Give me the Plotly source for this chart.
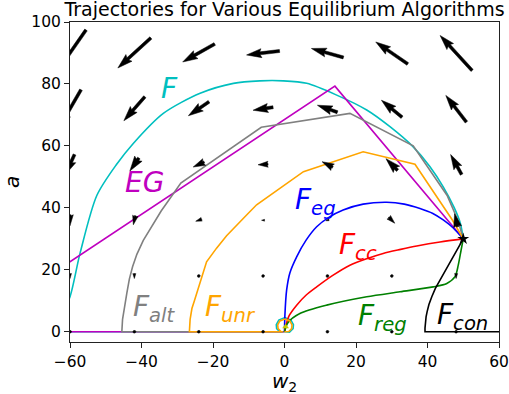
import math
import plotly.graph_objects as go

# ---------------------------------------------------------------- data
# Quiver grid (w2 columns, a rows)
W2_GRID = [-60, -42, -24, -6, 12, 30, 48]
A_GRID = [0, 18, 36, 54, 72, 90]

# Vector field components at each grid node (rows follow A_GRID)
U = [
    [0, 0, 0, 0, 0, 0, 0],
    [0, 0, 0, 0, 0, 0, 0],
    [0, -2, -6, -3, -3, 6, -3],
    [-9, -9, -11, -10, -10.6, -11.6, -11],
    [-22, -21, -20.6, -20, -20, -20.6, -20.6],
    [-32, -33, -32, -33, -32, -32, -32],
]
V = [
    [0, 0, 0, 0, 0, 0, 0],
    [-5, -5, -1, -0.5, -0.5, -2.5, -5],
    [-11, -9, -2, 0, -1, -6, 13],
    [-20, -13, -5, -0.5, 5.6, 11.7, 20],
    [-38, -24, -14, -3, 7, 17, 26.7],
    [-46, -30, -18, -4, 9, 22, 35],
]
QUIVER_SCALE = 1.0  # arrow length in px per field unit

# Trajectories (w2, a)
F_W2 = [0, 1.4, 2.4, 2.5, 1.8, 0.1, -1.6, -2.3, -2.2, -1.2, -0.5, -64, -62.5, -60, -57.2,
        -52.5, -47, -42.3, -33.9, -23.6, -14.3, -6.9, -0.3, 6.2, 14.6, 23, 29.5, 36,
        40.7, 44.4, 47.5, 49.2, 50]
F_A = [0, -0.1, 1.0, 2.3, 3.8, 4.6, 3.8, 2.3, 1.0, -0.1, 0, 0, 5, 11.3, 25.3,
       44, 54, 60.8, 70.5, 77, 80.2, 81, 81, 80.2, 76.4, 71.6, 66.2, 59.7,
       53.3, 46.8, 40, 35, 30]
F_TURN = 11  # index where F leaves the a = 0 boundary

EG_W2 = [0, -89.5, 14.1, 50]
EG_A = [0, 0, 79.3, 30]

ALT_W2 = [0, -45.5, -45.3, -44.8, -44.1, -43.4, -42.5, -41.3, -39.5, -34.5, -29, -6.5, 18.3, 36, 45.5, 48.5, 50]
ALT_A = [0, 0, 4, 8, 12.5, 17, 21, 25, 29.5, 39, 48, 66, 70.5, 60, 44, 36, 30]

UNR_W2 = [0, 1.2, 2.0, 2.1, 1.5, 0.1, -1.3, -1.9, -1.8, -1.0, -0.5, -26.6, -26.4, -25.9, -25.2,
          -24.4, -23.5, -21.8, -19, -16.2, -10.6, -7.8, -1.3, 5.3, 22, 36.5, 47, 50]
UNR_A = [0, 0.1, 1.0, 2.2, 3.5, 4.1, 3.5, 2.2, 1.0, 0.1, 0, 0, 4, 7.5, 10,
         13, 16, 22.6, 27, 31, 37.7, 41, 46.3, 51.7, 58.1, 54.1, 36, 30]

EGF_W2 = [0, 0.1, 0.6, 1.5, 3.4, 6, 9, 12.5, 16.4, 22, 28.6, 33.5, 37.9, 41.5, 44.4, 47.2, 50]
EGF_A = [0, 5, 13.5, 19, 24.2, 29.5, 33.9, 37, 39.3, 41.2, 41.8, 41.2, 39.8, 38.2, 36.1, 33.5, 30]

CC_W2 = [0, 1.2, 3.4, 6, 9, 13.5, 18.3, 23, 27.6, 32.5, 37, 43.5, 50]
CC_A = [0, 5, 8.6, 11.8, 14.5, 18.2, 21.5, 23.6, 25.3, 26.6, 27.7, 29, 30]

REG_W2 = [0, 1, 4.3, 11.8, 23, 32.3, 41.6, 45.4, 47.7, 48.6, 49.4, 50]
REG_A = [0, 3, 5.9, 8.6, 11.3, 12.9, 14.5, 15.6, 17.8, 21.5, 26.4, 30]

CON_W2 = [62, 39.3, 39.3, 39.4, 39.6, 39.9, 40.4, 41.2, 42.2, 43.5, 44.9, 46.3, 48.1, 50]
CON_A = [0, 0, 1.2, 2.8, 4.8, 6.5, 8.8, 11.3, 14, 16.7, 19.6, 22.6, 26.2, 30]

EQUILIBRIUM = (50, 30)
START = (0.3, 1.6)

LABELS = [
    ("<i>F</i>", -32.2, 78.4, "#00bfbf"),
    ("<i>EG</i>", -39.3, 48.2, "#bf00bf"),
    ("<i>F</i><sub><i>alt</i></sub>", -36.5, 7.5, "#808080"),
    ("<i>F</i><sub><i>unr</i></sub>", -15.2, 7.5, "#ffa500"),
    ("<i>F</i><sub><i>eg</i></sub>", 8.7, 42.2, "#0000ff"),
    ("<i>F</i><sub><i>cc</i></sub>", 20.6, 27.5, "#ff0000"),
    ("<i>F</i><sub><i>reg</i></sub>", 27.3, 4.6, "#008000"),
    ("<i>F</i><sub><i>con</i></sub>", 49.9, 4.9, "#000000"),
]

X_RANGE = [-60, 60]
Y_RANGE = [-3.3, 100]
X_TICKS = [-60, -40, -20, 0, 20, 40, 60]
Y_TICKS = [0, 20, 40, 60, 80, 100]

# ---------------------------------------------------------------- layout geometry
W, H = 509, 394
M_L, M_R, M_T, M_B = 70, 10, 22, 52
PX_X = (W - M_L - M_R) / (X_RANGE[1] - X_RANGE[0])
PX_Y = (H - M_T - M_B) / (Y_RANGE[1] - Y_RANGE[0])


def quiver_polygon(u, v, width=3.0, headwidth=3.0, headlength=5.0,
                   headaxislength=4.5, minshaft=1.0, minlength=1.0):
    """Outline of a matplotlib-style quiver arrow (pivot='middle'), in px."""
    L = math.hypot(u, v) * QUIVER_SCALE / width
    if L < minlength:
        pts = [(math.cos(k * math.pi / 3) * minlength * 0.5,
                math.sin(k * math.pi / 3) * minlength * 0.5) for k in range(8)]
        return [(px * width, py * width) for px, py in pts]
    minsh = minshaft * headlength
    if L < minsh:
        s = L / minsh
        xs = [0, minsh - headaxislength, minsh - headlength, minsh]
        xs = [s * x for x in xs]
        ys = [s * y for y in [0.5, 0.5, 0.5 * headwidth, 0]]
    else:
        xs = [0, L - headaxislength, L - headlength, L]
        ys = [0.5, 0.5, 0.5 * headwidth, 0]
    order = [0, 1, 2, 3, 2, 1, 0, 0]
    X = [xs[i] for i in order]
    Y = [ys[i] for i in order]
    for i in range(3, 7):
        Y[i] = -Y[i]
    tip = X[3]
    X = [x - 0.5 * tip for x in X]
    ang = math.atan2(v, u)
    c, s_ = math.cos(ang), math.sin(ang)
    return [((x * c - y * s_) * width, (x * s_ + y * c) * width) for x, y in zip(X, Y)]


fig = go.Figure()


def add_path(xs, ys, col, shape="linear"):
    fig.add_trace(go.Scatter(x=xs, y=ys, mode="lines",
                             line=dict(color=col, width=1.6, shape=shape, smoothing=0.8),
                             hoverinfo="skip"))


# F: loop and boundary run drawn straight, the free arc smoothed
add_path(F_W2[:F_TURN + 1], F_A[:F_TURN + 1], "#00bfbf")
add_path(F_W2[F_TURN:], F_A[F_TURN:], "#00bfbf", "spline")
add_path(EG_W2, EG_A, "#bf00bf")
add_path(ALT_W2, ALT_A, "#808080")
add_path(EGF_W2, EGF_A, "#0000ff", "spline")
add_path(CC_W2, CC_A, "#ff0000", "spline")
add_path(REG_W2, REG_A, "#008000", "spline")
add_path(CON_W2, CON_A, "#000000")
add_path(UNR_W2, UNR_A, "#ffa500")

fig.add_trace(go.Scatter(x=[START[0]], y=[START[1]], mode="markers",
                         marker=dict(symbol="triangle-up", size=6, color="#c8c800"),
                         hoverinfo="skip"))

# quiver arrows
qx, qy = [], []
for j, a in enumerate(A_GRID):
    for i, w in enumerate(W2_GRID):
        for px, py in quiver_polygon(U[j][i], V[j][i]):
            qx.append(w + px / PX_X)
            qy.append(a + py / PX_Y)
        qx.append(None)
        qy.append(None)
fig.add_trace(go.Scatter(x=qx, y=qy, mode="lines", fill="toself",
                         fillcolor="black", line=dict(width=0.5, color="black"),
                         hoverinfo="skip"))

fig.add_trace(go.Scatter(x=[EQUILIBRIUM[0]], y=[EQUILIBRIUM[1]], mode="markers",
                         marker=dict(symbol="star", size=9, color="black"),
                         hoverinfo="skip"))

for text, x, y, col in LABELS:
    fig.add_annotation(x=x, y=y, text=text, showarrow=False,
                       xanchor="center", yanchor="middle",
                       font=dict(family="DejaVu Sans", size=28, color=col))

fig.add_annotation(xref="paper", yref="paper", x=0.5, y=-0.125,
                   xanchor="center", yanchor="middle",
                   text="<i>w</i><sub>2</sub>", showarrow=False,
                   font=dict(family="DejaVu Sans", size=20, color="black"))
fig.add_annotation(xref="paper", yref="paper", x=-0.135, y=0.5, textangle=-90,
                   xanchor="center", yanchor="middle",
                   text="<i>a</i>", showarrow=False,
                   font=dict(family="DejaVu Sans", size=20, color="black"))

axis_common = dict(showgrid=False, zeroline=False, showline=True, mirror=True,
                   linecolor="#222", linewidth=1, ticks="outside", ticklen=5,
                   tickwidth=1, tickcolor="#222", automargin=False,
                   tickfont=dict(family="DejaVu Sans", size=15.5, color="black"))
fig.update_xaxes(range=X_RANGE, tickvals=X_TICKS,
                 ticktext=[str(t).replace("-", "\u2212") for t in X_TICKS], **axis_common)
fig.update_yaxes(range=Y_RANGE, tickvals=Y_TICKS,
                 ticktext=[str(t) for t in Y_TICKS], **axis_common)

fig.update_layout(
    width=W, height=H,
    margin=dict(l=M_L, r=M_R, t=M_T, b=M_B, autoexpand=False),
    paper_bgcolor="white", plot_bgcolor="white",
    showlegend=False,
    title=dict(text="Trajectories for Various Equilibrium Algorithms",
               x=0.5, xref="paper", xanchor="center",
               y=1.0, yref="container", yanchor="top", pad=dict(t=3),
               font=dict(family="DejaVu Sans", size=19, color="black")),
)

fig.write_html("out.html")
